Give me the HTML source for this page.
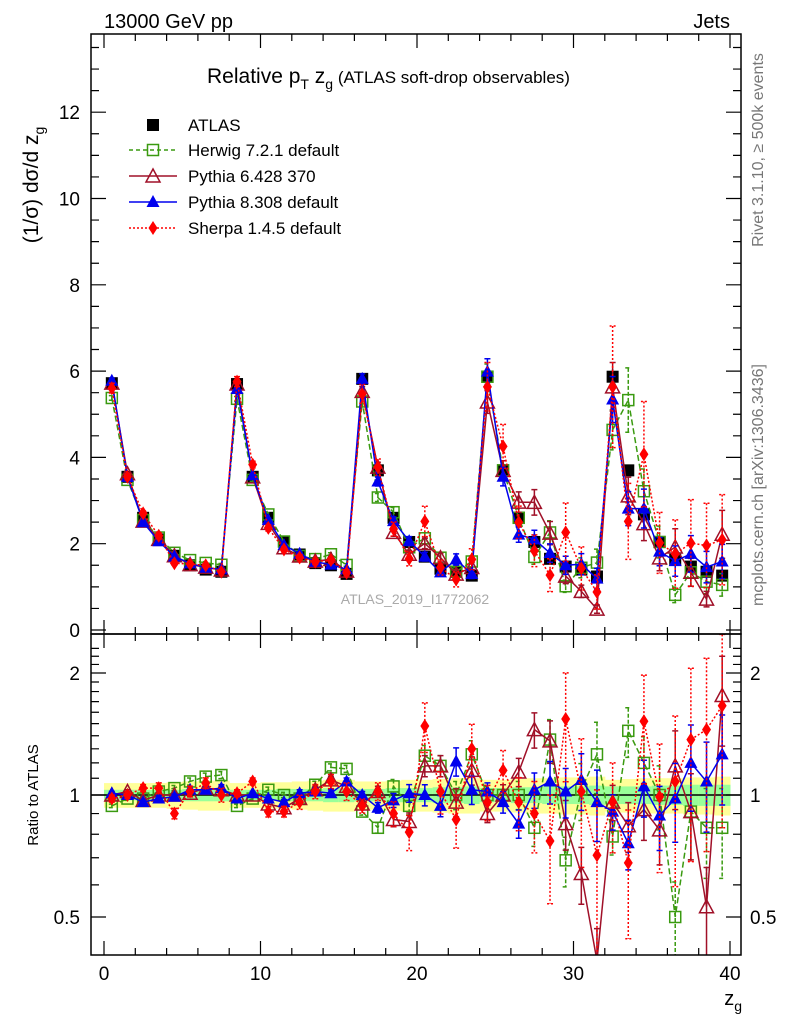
<!DOCTYPE html>
<html><head><meta charset="utf-8">
<style>
html,body{margin:0;padding:0;background:#fff;}
svg{display:block;font-family:"Liberation Sans","DejaVu Sans",sans-serif;}
</style></head>
<body>
<svg id="chart" width="786" height="1024" viewBox="0 0 786 1024" xmlns="http://www.w3.org/2000/svg">
<defs>
<clipPath id="clipMain"><rect x="91" y="34" width="650" height="600"/></clipPath>
<clipPath id="clipRatio"><rect x="91" y="634" width="650" height="321"/></clipPath>
</defs>
<text x="104" y="28" font-size="20">13000 GeV pp</text>
<text x="730" y="28" font-size="20" text-anchor="end">Jets</text>
<text x="207" y="83" font-size="21">Relative p<tspan font-size="14" dy="6">T</tspan><tspan dy="-6"> z</tspan><tspan font-size="14" dy="6">g</tspan><tspan dy="-6" font-size="17"> (ATLAS soft-drop observables)</tspan></text>
<text transform="translate(38,185) rotate(-90)" font-size="21" text-anchor="middle">(1/σ) dσ/d z<tspan font-size="14" dy="6">g</tspan></text>
<text transform="translate(763,150) rotate(-90)" font-size="16" fill="#777" text-anchor="middle">Rivet 3.1.10, ≥ 500k events</text>
<text transform="translate(763,485) rotate(-90)" font-size="16" fill="#777" text-anchor="middle">mcplots.cern.ch [arXiv:1306.3436]</text>
<text x="415" y="604" font-size="14" fill="#aaa" text-anchor="middle">ATLAS_2019_I1772062</text>
<text transform="translate(38,795) rotate(-90)" font-size="15" text-anchor="middle">Ratio to ATLAS</text>
<text x="742" y="1005" font-size="20" text-anchor="end">z<tspan font-size="14" dy="6">g</tspan></text>
<g id="band" clip-path="url(#clipRatio)"></g>
<g id="mainMarks" clip-path="url(#clipMain)"></g>
<g id="ratioMarks" clip-path="url(#clipRatio)"></g>
<g id="axes"></g>
<g id="legend"></g>
</svg>
<script>
const bins = [0,1,2,3,4,5,6,7,8,9,10,11,12,13,14,15,16,17,18,19,20,21,22,23,24,25,26,27,28,29,30,31,32,33,34,35,36,37,38,39];
const atlas = [5.72,3.55,2.6,2.1,1.72,1.5,1.4,1.35, 5.7,3.55,2.6,2.05,1.75,1.55,1.5,1.3, 5.82,3.7,2.6,2.04,1.7,1.42,1.35,1.26, 5.87,3.7,2.6,2.04,1.65,1.47,1.4,1.24, 5.87,3.7,2.68,2.04,1.63,1.47,1.35,1.26];
const atlasStat = [0.03,0.03,0.03,0.03,0.03,0.035,0.035,0.035, 0.03,0.03,0.03,0.035,0.035,0.035,0.04,0.04, 0.035,0.035,0.04,0.04,0.04,0.045,0.045,0.05, 0.04,0.04,0.045,0.045,0.05,0.05,0.05,0.055, 0.05,0.05,0.05,0.055,0.055,0.06,0.06,0.06];
const atlasTot = [0.07,0.07,0.07,0.07,0.075,0.08,0.085,0.085, 0.07,0.07,0.075,0.075,0.08,0.085,0.09,0.09, 0.08,0.08,0.085,0.09,0.09,0.095,0.1,0.1, 0.09,0.09,0.095,0.1,0.1,0.105,0.105,0.11, 0.09,0.095,0.1,0.1,0.1,0.105,0.105,0.11];
const herwigRatio = [0.94,0.98,0.98,1.02,1.04,1.08,1.11,1.12, 0.94,0.98,1.03,1.0,0.98,1.06,1.17,1.16, 0.91,0.83,1.05,0.94,1.25,1.18,1.0,1.26, 1.0,1.0,1.0,0.83,1.37,0.69,1.03,1.26, 0.79,1.44,1.2,1.0,0.5,0.91,0.83,0.83];
const py6Ratio = [1.0,1.02,0.97,1.0,1.0,1.01,1.04,1.03, 1.0,1.0,0.95,0.93,0.98,1.03,1.09,1.05, 0.95,1.02,0.87,0.86,1.18,1.18,0.96,1.15, 0.9,1.0,1.14,1.45,1.36,0.85,0.64,0.39, 0.96,0.84,0.92,0.82,1.18,0.91,0.53,1.76];
const py8Ratio = [1.01,1.0,0.96,0.98,0.99,1.03,1.03,1.04, 0.98,1.01,0.98,0.96,1.01,1.02,1.01,1.08, 1.0,0.93,0.97,1.01,1.0,0.94,1.21,1.03, 1.02,0.96,0.85,1.03,1.08,1.02,1.09,0.96, 0.91,0.76,1.05,0.89,0.98,1.2,1.08,1.26];
const sherpaRatio = [0.98,1.0,1.04,1.04,0.9,1.02,1.07,1.0, 1.01,1.08,0.91,0.91,0.96,1.02,1.08,1.02, 0.94,1.02,0.9,0.81,1.48,1.02,0.87,1.3, 0.96,1.15,0.96,0.9,0.77,1.54,1.02,0.71, 0.96,0.68,1.52,0.99,1.08,1.37,1.45,1.66];
const mcRelErr = [0.01,0.01,0.01,0.015,0.015,0.02,0.02,0.02, 0.01,0.01,0.015,0.015,0.02,0.02,0.02,0.02, 0.02,0.03,0.04,0.05,0.06,0.06,0.08,0.08, 0.05,0.06,0.08,0.1,0.12,0.14,0.16,0.2, 0.1,0.14,0.16,0.18,0.22,0.24,0.25,0.25];
const sherpaRelErr = [0.02,0.02,0.02,0.03,0.03,0.03,0.03,0.04, 0.02,0.02,0.03,0.03,0.04,0.04,0.04,0.05, 0.04,0.05,0.07,0.1,0.14,0.12,0.15,0.15, 0.1,0.12,0.15,0.2,0.3,0.3,0.35,0.45, 0.25,0.35,0.3,0.35,0.45,0.5,0.5,0.5];
const xTicks = [0,10,20,30,40];
const yTicks = [0,2,4,6,8,10,12];
const rTicks = [0.5,1,2];

const NS="http://www.w3.org/2000/svg";
const X0=104, XS=15.65;
function xs(v){return X0+XS*v;}
function ys(v){return 630-43.15*v;}
function rs(r){return 795-122*Math.log2(r);}
function mk(tag,attrs,parent){const e=document.createElementNS(NS,tag);for(const k in attrs)e.setAttribute(k,attrs[k]);parent.appendChild(e);return e;}
const G=id=>document.getElementById(id);

const band=G('band');
bins.forEach((b,i)=>{
  const y1=mk('rect',{x:xs(b),y:rs(1+atlasTot[i]),width:XS+0.5,height:rs(1-atlasTot[i])-rs(1+atlasTot[i]),fill:'#ffff99'},band);
  
  
  const y2=mk('rect',{x:xs(b),y:rs(1+atlasStat[i]),width:XS+0.5,height:rs(1-atlasStat[i])-rs(1+atlasStat[i]),fill:'#99ff99'},band);
  
  
});
const one=mk('line',{x1:91,x2:741,y1:rs(1),y2:rs(1),stroke:'#000','stroke-width':1.5},G('ratioMarks'));



function marker(type,x,y,color,parent){
  let e;
  if(type==='fsq'){e=mk('rect',{x:x-6,y:y-6,width:12,height:12,fill:'#000'},parent);}
  else if(type==='osq'){e=mk('rect',{x:x-5.5,y:y-5.5,width:11,height:11,fill:'none',stroke:color,'stroke-width':1.5},parent);}
  else if(type==='otri'){e=mk('polygon',{points:`${x},${y-7} ${x-7},${y+6} ${x+7},${y+6}`,fill:'none',stroke:color,'stroke-width':1.5},parent);}
  else if(type==='ftri'){e=mk('polygon',{points:`${x},${y-7} ${x-6.5},${y+5} ${x+6.5},${y+5}`,fill:color},parent);}
  else {e=mk('polygon',{points:`${x},${y-7} ${x-4.5},${y} ${x},${y+7} ${x+4.5},${y}`,fill:color},parent);}
  return e;
}
const series=[
  {name:'herwig',ratio:herwigRatio,err:mcRelErr,color:'#3a9a10',dash:'6,3',m:'osq'},
  {name:'pythia6',ratio:py6Ratio,err:mcRelErr,color:'#a01028',dash:'',m:'otri'},
  {name:'pythia8',ratio:py8Ratio,err:mcRelErr,color:'#0000ee',dash:'',m:'ftri'},
  {name:'sherpa',ratio:sherpaRatio,err:sherpaRelErr,color:'#ff0000',dash:'2,2',m:'dia'}
];
function drawSeries(s,parent,ymap,valFn,isRatio){
  const pts=bins.map((b,i)=>[xs(b+0.5),ymap(valFn(i))]);
  const pl=mk('polyline',{points:pts.map(p=>p.join(',')).join(' '),fill:'none',stroke:s.color,'stroke-width':1.5},parent);
  if(s.dash)pl.setAttribute('stroke-dasharray',s.dash);
  
  
  bins.forEach((b,i)=>{
    const v=valFn(i), e=v*s.err[i];
    const x=xs(b+0.5), yt=ymap(v+e), yb=ymap(Math.max(v-e,0.01));
    const eb=mk('path',{d:`M${x},${yt}V${yb}M${x-3},${yt}H${x+3}M${x-3},${yb}H${x+3}`,stroke:s.color,'stroke-width':1.5,fill:'none'},parent);
    if(s.dash)eb.setAttribute('stroke-dasharray',s.dash==='2,2'?'2,2':'4,2');
    
    
    const m=marker(s.m,x,ymap(v),s.color,parent);
    
    
  });
}
const main=G('mainMarks');
bins.forEach((b,i)=>{
  const x=xs(b+0.5);
  const eb=mk('line',{x1:x,x2:x,y1:ys(atlas[i]*(1+atlasStat[i]*0.6)),y2:ys(atlas[i]*(1-atlasStat[i]*0.6)),stroke:'#000','stroke-width':1.5},main);
  
  
  const m=marker('fsq',x,ys(atlas[i]),'#000',main);
  
  
});
series.forEach(s=>drawSeries(s,main,ys,i=>atlas[i]*s.ratio[i],false));
const rg=G('ratioMarks');
series.forEach(s=>drawSeries(s,rg,rs,i=>s.ratio[i],true));

const ax=G('axes');
const f1=mk('rect',{x:91,y:34,width:650,height:600,fill:'none',stroke:'#000','stroke-width':1.5},ax);


const f2=mk('rect',{x:91,y:634,width:650,height:321,fill:'none',stroke:'#000','stroke-width':1.5},ax);


let d='';
for(let v=0;v<=40.01;v+=2){const x=xs(v);const L=(v%10===0)?14:7;d+=`M${x},634V${634-L}M${x},34V${34+L}M${x},955V${955-L}M${x},634V${634+L}`;}
for(let v=0;v<=13.7;v+=0.5){const y=ys(v);const L=(v%2===0)?15:8;d+=`M91,${y}H${91+L}M741,${y}H${741-L}`;}
for(let r=0.5;r<=2.4;r+=0.1){const y=rs(r);if(y<634||y>955)continue;const maj=[0.5,1,2].some(t=>Math.abs(t-r)<1e-6);const L=maj?15:8;d+=`M91,${y}H${91+L}M741,${y}H${741-L}`;}
const tk=mk('path',{d:d,stroke:'#000','stroke-width':1.2,fill:'none'},ax);


xTicks.forEach(v=>{const t=mk('text',{x:xs(v),y:980,'font-size':19,'text-anchor':'middle'},ax);t.textContent=v;
  
  });
yTicks.forEach(v=>{const t=mk('text',{x:80,y:ys(v)+7,'font-size':19,'text-anchor':'end'},ax);t.textContent=v;
  
  });
rTicks.forEach(v=>{
  const t=mk('text',{x:80,y:rs(v)+7,'font-size':19,'text-anchor':'end'},ax);t.textContent=v;
  
  
  const t2=mk('text',{x:750,y:rs(v)+7,'font-size':19},ax);t2.textContent=v;
  
  
});
const lg=G('legend');
const legNames=['ATLAS','Herwig 7.2.1 default','Pythia 6.428 370','Pythia 8.308 default','Sherpa 1.4.5 default'];
const legY=[125,150,176,202,228];
legNames.forEach((n,i)=>{
  const y=legY[i];
  if(i>0){const s=series[i-1];const l=mk('line',{x1:129,x2:177,y1:y,y2:y,stroke:s.color,'stroke-width':1.5},lg);if(s.dash)l.setAttribute('stroke-dasharray',s.dash==='2,2'?'2,2':'4,3');
    
    
    const m=marker(s.m,153,y,s.color,lg);
    
    }
  else{const m=marker('fsq',153,y,'#000',lg);
    
    }
  const t=mk('text',{x:188,y:y+6,'font-size':17},lg);t.textContent=n;
  
  
});
</script>
</body></html>
